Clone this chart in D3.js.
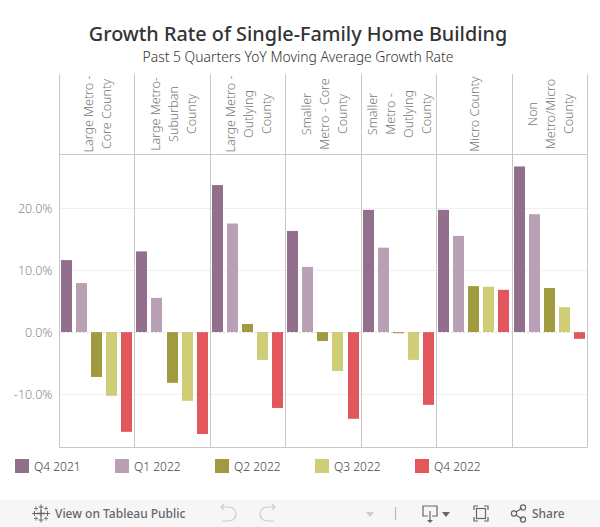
<!DOCTYPE html>
<html>
<head>
<meta charset="utf-8">
<script src="https://cdn.jsdelivr.net/npm/d3@7"></script>
<style>
  html, body { margin: 0; padding: 0; background: #fff; }
  svg { display: block; }
  text { font-family: "Noto Sans", sans-serif; }
</style>
</head>
<body>
<div id="chart"></div>
<script>
const regions = [
  ['Large Metro -', 'Core County'],
  ['Large Metro-', 'Suburban', 'County'],
  ['Large Metro -', 'Outlying', 'County'],
  ['Smaller', 'Metro - Core', 'County'],
  ['Smaller', 'Metro -', 'Outlying', 'County'],
  ['Micro County'],
  ['Non', 'Metro/Micro', 'County']
];
const quarters = ['Q4 2021', 'Q1 2022', 'Q2 2022', 'Q3 2022', 'Q4 2022'];
const colors = ['#92708d', '#b9a0b5', '#a09b3e', '#cfcd76', '#e2575b'];

const q42021 = [11.6, 13.0, 23.7, 16.3, 19.7, 19.7, 26.7];
const q12022 = [7.9, 5.5, 17.5, 10.5, 13.6, 15.5, 19.0];
const q22022 = [-7.25, -8.2, 1.3, -1.45, -0.2, 7.4, 7.1];
const q32022 = [-10.3, -11.1, -4.5, -6.3, -4.5, 7.3, 4.0];
const q42022 = [-16.1, -16.45, -12.25, -14.0, -11.75, 6.8, -1.1];
const series = [q42021, q12022, q22022, q32022, q42022];

const yTicks = [20, 10, 0, -10];

const w = 600;
const h = 527;
const left = 59.5;
const right = 587.5;
const headerTop = 74;
const plotTop = 154.5;
const plotBottom = 447.5;

const svg = d3.select('#chart').append('svg')
  .attr('width', w)
  .attr('height', h);

const x = d3.scaleBand().domain(d3.range(regions.length)).range([left, right]);
const inner = d3.scaleBand().domain(d3.range(quarters.length))
  .range([1.5, 72.8]).paddingInner(4 / 15);
const y = d3.scaleLinear().domain([20, -10]).range([208, 394]);

svg.append('text')
  .attr('x', 298).attr('y', 41)
  .attr('text-anchor', 'middle')
  .attr('font-size', 19.8).attr('font-weight', 500)
  .attr('fill', '#333')
  .text('Growth Rate of Single-Family Home Building');
svg.append('text')
  .attr('x', 298).attr('y', 62)
  .attr('text-anchor', 'middle')
  .attr('font-size', 13.9)
  .attr('font-weight', 300)
  .attr('fill', '#333')
  .text('Past 5 Quarters YoY Moving Average Growth Rate');

// grid + y axis
const yAxis = svg.append('g')
  .attr('transform', `translate(${left},0)`)
  .call(d3.axisLeft(y).tickValues(yTicks).tickSize(0).tickPadding(7)
    .tickFormat(d => d.toFixed(1) + '%'));
yAxis.select('.domain').remove();
yAxis.selectAll('text')
  .attr('font-family', '"Noto Sans", sans-serif')
  .attr('font-size', 12.5)
  .attr('font-weight', 300)
  .attr('fill', '#888');

svg.append('g').selectAll('line')
  .data(yTicks.filter(d => d !== 0))
  .join('line')
  .attr('x1', left).attr('x2', right)
  .attr('y1', d => y(d) + 0.5).attr('y2', d => y(d) + 0.5)
  .attr('stroke', '#f0f0f0');

// bars
svg.append('g').selectAll('g')
  .data(series)
  .join('g')
  .attr('fill', (d, i) => colors[i])
  .each(function(values, q) {
    d3.select(this).selectAll('rect')
      .data(values)
      .join('rect')
      .attr('x', (d, i) => Math.round(x(i) + inner(q)))
      .attr('width', Math.round(inner.bandwidth()))
      .attr('y', d => y(Math.max(d, 0)))
      .attr('height', d => Math.abs(y(d) - y(0)));
  });

svg.append('line')
  .attr('x1', left).attr('x2', right)
  .attr('y1', y(0) + 0.5).attr('y2', y(0) + 0.5)
  .attr('stroke', '#bbb')
  .attr('stroke-dasharray', '1 3');

// panel frame
const frame = svg.append('g').attr('stroke', '#c8c8c8').attr('fill', 'none');
frame.selectAll('line.panel')
  .data(d3.range(regions.length + 1))
  .join('line')
  .attr('class', 'panel')
  .attr('x1', d => Math.round(left + d * x.step() - 0.5) + 0.5)
  .attr('x2', d => Math.round(left + d * x.step() - 0.5) + 0.5)
  .attr('y1', headerTop).attr('y2', plotBottom);
frame.append('line').attr('x1', left).attr('x2', right).attr('y1', plotTop).attr('y2', plotTop);
frame.append('line').attr('x1', left).attr('x2', right).attr('y1', plotBottom).attr('y2', plotBottom);

// rotated region headers
const lineGap = 18;
svg.append('g').selectAll('text')
  .data(regions)
  .join('text')
  .attr('transform', (d, i) => `translate(${x(i) + x.bandwidth() / 2 + 1},114) rotate(-90)`)
  .attr('text-anchor', 'middle')
  .attr('font-size', 12.5)
  .attr('font-weight', 300)
  .attr('fill', '#777')
  .each(function(lines) {
    d3.select(this).selectAll('tspan')
      .data(lines)
      .join('tspan')
      .attr('x', 0)
      .attr('y', (d, i) => (i - (lines.length - 1) / 2) * lineGap + 4)
      .text(d => d);
  });

// legend
const legendX = d3.scaleLinear().domain([0, 1]).range([15, 115]);
const legend = svg.append('g').selectAll('g')
  .data(quarters)
  .join('g')
  .attr('transform', (d, i) => `translate(${legendX(i)},459)`);
legend.append('rect')
  .attr('width', 14).attr('height', 14)
  .attr('fill', (d, i) => colors[i]);
legend.append('text')
  .attr('x', 19).attr('y', 12)
  .attr('font-size', 12)
  .attr('font-weight', 300)
  .attr('fill', '#444')
  .text(d => d);

// toolbar
const bar = svg.append('g');
bar.append('rect')
  .attr('x', 0).attr('y', 500).attr('width', w).attr('height', 27)
  .attr('fill', '#f6f6f6');

function plus(g, cx, cy, r, width) {
  g.append('path')
    .attr('d', `M${cx - r},${cy}H${cx + r}M${cx},${cy - r}V${cy + r}`)
    .attr('stroke', '#666').attr('stroke-width', width).attr('fill', 'none');
}
const logo = bar.append('g');
plus(logo, 41, 513.5, 4, 1.4);
plus(logo, 41, 507, 2.5, 1);
plus(logo, 41, 520, 2.5, 1);
plus(logo, 34.5, 513.5, 2.5, 1);
plus(logo, 47.5, 513.5, 2.5, 1);
plus(logo, 36, 508.5, 2, 0.8);
plus(logo, 46, 508.5, 2, 0.8);
plus(logo, 36, 518.5, 2, 0.8);
plus(logo, 46, 518.5, 2, 0.8);

bar.append('text')
  .attr('x', 55).attr('y', 518)
  .attr('font-size', 12).attr('font-weight', 500)
  .attr('fill', '#666')
  .text('View on Tableau Public');
bar.append('text')
  .attr('x', 532).attr('y', 518)
  .attr('font-size', 12).attr('font-weight', 500)
  .attr('fill', '#666')
  .text('Share');

const icon = bar.append('g').attr('fill', 'none').attr('stroke-width', 1.2);
// undo, redo
icon.append('path').attr('stroke', '#ccc')
  .attr('d', 'M221,507H229a6.5,6.5 0 0 1 0,14H222M224,504L221,507L224,510');
icon.append('path').attr('stroke', '#ccc')
  .attr('d', 'M275,507H267a6.5,6.5 0 0 0 0,14H274M272,504L275,507L272,510');
icon.append('path').attr('stroke', 'none').attr('fill', '#ccc')
  .attr('d', 'M366,512H374L370,517Z');
icon.append('path').attr('stroke', '#bbb').attr('d', 'M395.5,507V520');
// download
icon.append('path').attr('stroke', '#666')
  .attr('d', 'M428,516H423V506H437V516H432M430,511V521');
icon.append('path').attr('stroke', 'none').attr('fill', '#666')
  .attr('d', 'M427,520H433L430,523Z');
icon.append('path').attr('stroke', 'none').attr('fill', '#666')
  .attr('d', 'M442,512H450L446,517Z');
// fullscreen
icon.append('path').attr('stroke', '#666')
  .attr('d', 'M474,510V506H478M484,506H488V510M488,517V521H484M478,521H474V517');
icon.append('rect').attr('stroke', '#666')
  .attr('x', 476.5).attr('y', 508.5).attr('width', 9).attr('height', 10);
// share
icon.append('path').attr('stroke', '#666')
  .attr('d', 'M516,512L522,508M516,515L522,519');
icon.selectAll('circle.share')
  .data([[514, 513.5], [523, 507.5], [523, 519.5]])
  .join('circle')
  .attr('class', 'share')
  .attr('cx', d => d[0]).attr('cy', d => d[1]).attr('r', 2.6)
  .attr('stroke', '#666');
</script>
</body>
</html>
